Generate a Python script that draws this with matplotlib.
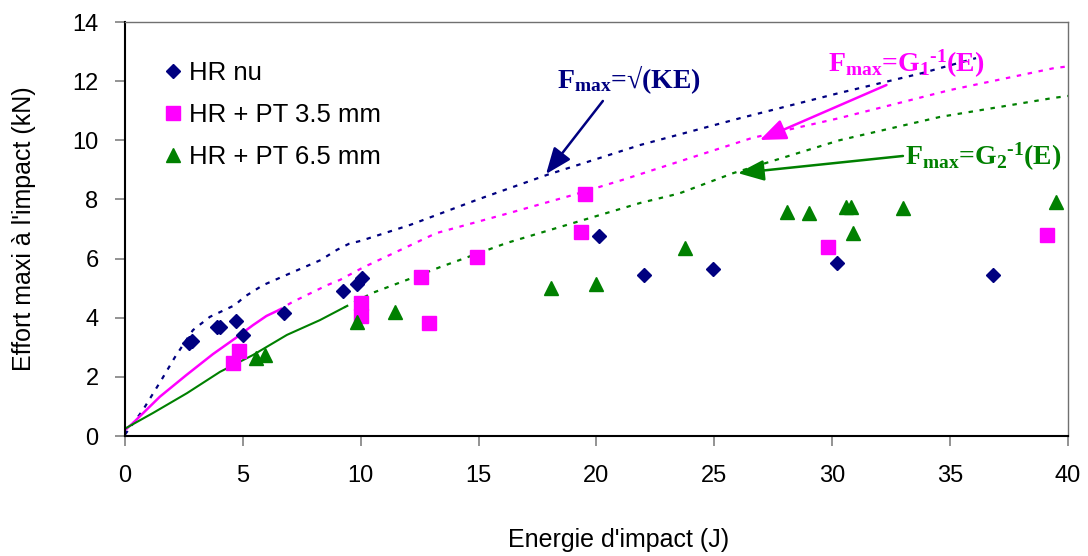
import matplotlib
matplotlib.use("Agg")
import matplotlib.pyplot as plt

plt.rcParams["font.family"] = ["Liberation Sans", "DejaVu Sans"]
plt.rcParams["mathtext.fontset"] = "custom"
plt.rcParams["mathtext.rm"] = "Liberation Serif:bold"
plt.rcParams["mathtext.it"] = "Liberation Serif:bold"
plt.rcParams["mathtext.bf"] = "Liberation Serif:bold"

NAVY = "#000080"
MAGENTA = "#FF00FF"
GREEN = "#008000"

# Essais : effort maximal (kN) en fonction de l'énergie d'impact (J)
E_nu = [2.7, 2.85, 3.9, 4.05, 4.7, 5.0, 6.75, 9.25, 9.85, 10.05, 20.1, 22.0, 24.95, 30.2, 36.8]
F_nu = [3.15, 3.2, 3.7, 3.7, 3.9, 3.4, 4.15, 4.9, 5.15, 5.35, 6.75, 5.45, 5.65, 5.85, 5.45]

E_pt35 = [4.6, 4.85, 10.0, 10.0, 12.55, 12.9, 14.95, 19.35, 19.5, 29.8, 39.1]
F_pt35 = [2.47, 2.87, 4.5, 4.05, 5.38, 3.82, 6.05, 6.9, 8.2, 6.4, 6.8]

E_pt65 = [5.56, 5.94, 9.84, 11.45, 18.07, 20.0, 23.75, 28.08, 29.0, 30.6, 30.8, 30.88, 33.0, 39.5]
F_pt65 = [2.64, 2.74, 3.86, 4.19, 5.0, 5.14, 6.36, 7.57, 7.54, 7.74, 7.74, 6.86, 7.71, 7.9]

# Courbes de prévision
E_sqrt = [0.0, 0.76, 1.57, 2.12, 2.88, 3.6, 4.67, 5.05, 5.85, 7.0, 8.3, 9.0, 9.5, 10.0,
          12.1, 14.97, 17.9, 21.85, 26.1, 30.3, 33.8, 36.1]
F_sqrt = [0.05, 0.88, 1.93, 2.67, 3.58, 4.03, 4.43, 4.7, 5.1, 5.5, 5.95, 6.3, 6.5, 6.6,
          7.14, 8.0, 8.83, 9.84, 10.75, 11.6, 12.27, 12.78]

E_g1_solid = [0.0, 0.34, 1.48, 2.6, 3.73, 4.67, 5.43, 6.0, 6.5]
F_g1_solid = [0.2, 0.44, 1.33, 2.06, 2.77, 3.3, 3.75, 4.06, 4.25]
E_g1 = [6.5, 7.1, 8.57, 9.12, 10.1, 13.2, 16.3, 19.0, 21.1, 26.6, 30.3, 35.0, 39.4, 40.0]
F_g1 = [4.25, 4.53, 5.1, 5.28, 5.7, 6.86, 7.54, 8.15, 8.66, 10.08, 10.75, 11.7, 12.44, 12.5]

E_g2_solid = [0.0, 1.19, 2.63, 4.03, 5.43, 6.87, 8.27, 9.3]
F_g2_solid = [0.25, 0.78, 1.45, 2.17, 2.74, 3.42, 3.92, 4.35]
E_g2 = [9.3, 10.5, 11.96, 13.36, 16.2, 19.0, 21.85, 23.5, 25.8, 30.3, 34.57, 39.36, 40.0]
F_g2 = [4.35, 4.84, 5.28, 5.71, 6.53, 7.2, 7.88, 8.2, 8.89, 10.0, 10.79, 11.43, 11.5]

x_ticks = [0, 5, 10, 15, 20, 25, 30, 35, 40]
y_ticks = [0, 2, 4, 6, 8, 10, 12, 14]

fig = plt.figure(figsize=(10.88, 5.56), dpi=100)
ax = fig.add_axes([0.1149, 0.2158, 0.8667, 0.7446])

dash = (2.0, 3.0)
ax.plot(E_sqrt, F_sqrt, color=NAVY, lw=1.6, dashes=dash)
ax.plot(E_g1_solid, F_g1_solid, color=MAGENTA, lw=1.8)
ax.plot(E_g1, F_g1, color=MAGENTA, lw=1.6, dashes=dash)
ax.plot(E_g2_solid, F_g2_solid, color=GREEN, lw=1.5)
ax.plot(E_g2, F_g2, color=GREEN, lw=1.6, dashes=dash)

ax.plot(E_nu, F_nu, ls="none", marker="D", ms=7.0, color=NAVY, mec=NAVY, label="HR nu")
ax.plot(E_pt35, F_pt35, ls="none", marker="s", ms=10, color=MAGENTA, mec=MAGENTA,
        label="HR + PT 3.5 mm")
ax.plot(E_pt65, F_pt65, ls="none", marker="^", ms=10, color=GREEN, mec=GREEN,
        label="HR + PT 6.5 mm")

ax.set_xlim(0, 40)
ax.set_ylim(0, 14)
ax.set_xticks(x_ticks)
ax.set_yticks(y_ticks)
ax.tick_params(axis="both", direction="out", length=7, width=1.2, color="#808080",
               labelsize=17, pad=12)
ax.tick_params(axis="x", pad=14)
for side in ("left", "bottom"):
    ax.spines[side].set_color("black")
    ax.spines[side].set_linewidth(1.5)
for side in ("top", "right"):
    ax.spines[side].set_color("#707070")
    ax.spines[side].set_linewidth(1.0)

ax.set_xlabel("Energie d'impact (J)", fontsize=18)
ax.xaxis.set_label_coords(0.523, -0.222)
ax.set_ylabel("Effort maxi à l'impact (kN)", fontsize=18)
ax.yaxis.set_label_coords(-0.094, 0.5)

ax.legend(loc="upper left", bbox_to_anchor=(0.043, 0.905), frameon=False, fontsize=18.5,
          numpoints=1, handlelength=0.6, handletextpad=0.3, labelspacing=0.7,
          borderpad=0, borderaxespad=0)

serif = ["Liberation Serif", "DejaVu Serif"]
ax.text(18.32, 11.77, r"F$_{\mathrm{max}}$=√(KE)", color=NAVY, fontsize=20,
        fontweight="bold", family=serif, ha="left", va="baseline")
ax.annotate("", xy=(17.86, 8.86), xytext=(20.27, 11.33),
            arrowprops=dict(arrowstyle="-|>,head_length=1.0,head_width=0.4",
                            mutation_scale=16, color=NAVY, lw=1.8, shrinkA=0, shrinkB=0))

ax.text(29.82, 12.31, r"F$_{\mathrm{max}}$=G$_{\mathrm{1}}$$^{\text{-1}}$(E)", color=MAGENTA,
        fontsize=20, fontweight="bold", family=serif, ha="left", va="baseline")
ax.annotate("", xy=(26.93, 10.01), xytext=(32.3, 11.87),
            arrowprops=dict(arrowstyle="-|>,head_length=1.0,head_width=0.4",
                            mutation_scale=16, color=MAGENTA, lw=1.8, shrinkA=0, shrinkB=0))

ax.text(33.09, 9.16, r"F$_{\mathrm{max}}$=G$_{\mathrm{2}}$$^{\text{-1}}$(E)", color=GREEN,
        fontsize=20, fontweight="bold", family=serif, ha="left", va="baseline")
ax.annotate("", xy=(26.0, 8.89), xytext=(33.0, 9.47),
            arrowprops=dict(arrowstyle="-|>,head_length=1.0,head_width=0.4",
                            mutation_scale=16, color=GREEN, lw=1.8, shrinkA=0, shrinkB=0))

fig.savefig("out.png", dpi=100)
